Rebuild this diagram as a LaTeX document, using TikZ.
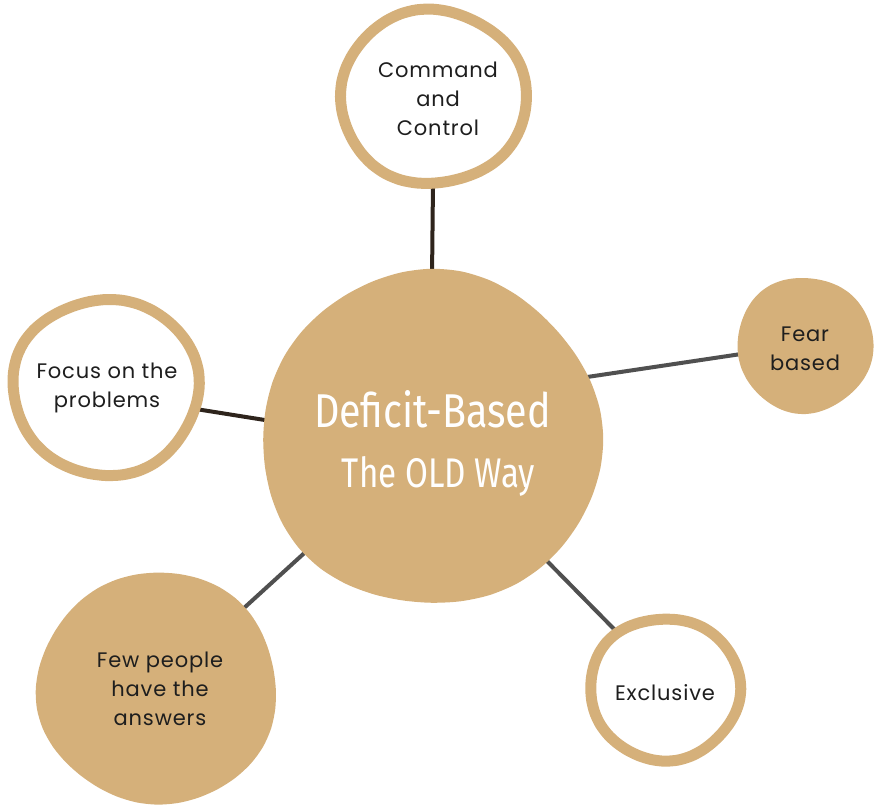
\documentclass[tikz,border=0pt]{standalone}
\usepackage{fontspec}
\setmainfont{Poppins}
\newfontfamily\lblfont[LetterSpace=4]{Poppins}
\newfontfamily\headfont{Fira Sans}
\definecolor{tan}{HTML}{D5B07A}
\definecolor{darkline}{HTML}{2E241C}
\definecolor{grayline}{HTML}{505050}
\definecolor{txt}{HTML}{1E1E1E}
% #1 style, #2 cx, #3 cy, #4 rx, #5 ry, #6 phase
\newcommand\blobdraw[6]{%
  \draw[#1] plot[smooth cycle, domain=0:350, samples=36, variable=\t]
   ({#2+#4*(1+0.012*sin(3*\t+#6)+0.008*cos(5*\t+2*#6))*cos(\t)},
    {#3+#5*(1+0.012*sin(3*\t+#6)+0.008*cos(5*\t+2*#6))*sin(\t)});}
\tikzset{
  hub/.style={circle, inner sep=0pt, minimum size=#1},
  ring/.style={draw=tan, line width=11pt, fill=white},
  disc/.style={fill=tan, draw=none},
  darkconn/.style={draw=darkline, line width=4pt},
  grayconn/.style={draw=grayline, line width=4pt},
  lbl/.style={font=\lblfont\fontsize{21}{29}\selectfont, text=txt, align=center},
}
\begin{document}
\begin{tikzpicture}[x=1pt, y=-1pt]
\useasboundingbox (0,0) rectangle (882,810);
% invisible anchors for connectors
\node[hub=320pt] (ctr) at (432,438) {};
\node[hub=170pt] (cmd) at (433,97) {};
\node[hub=120pt] (fear) at (805,345) {};
\node[hub=176pt] (focus) at (106,387) {};
\node[hub=220pt] (few) at (157,689) {};
\node[hub=144pt] (excl) at (665,689) {};
% connectors
\draw[darkconn] (ctr.90) -- (cmd.270);
\draw[grayconn] (ctr.22) -- (fear.188);
\draw[darkconn] (ctr.174) -- (focus.346);
\draw[grayconn] (ctr.222) -- (few.43);
\draw[grayconn] (ctr.313) -- (excl.130);
% shapes
\blobdraw{disc}{431.5}{438.5}{170}{167}{20}
\blobdraw{ring}{433}{97}{93}{87}{70}
\blobdraw{disc}{805}{345}{68}{68}{130}
\blobdraw{ring}{106}{387}{93}{88}{200}
\blobdraw{disc}{157.5}{688.5}{120}{116}{300}
\blobdraw{ring}{665}{689}{75}{71}{160}
% texts
\node[lbl] (tcmd) at (438,99) {Command\\and\\Control};
\node[lbl] (tfear) at (805,349) {Fear\\based};
\node[lbl] (tfocus) at (107,388) {Focus on the\\problems};
\node[lbl] (tfew) at (160,689) {Few people\\have the\\answers};
\node[lbl] (texcl) at (665,693) {Exclusive};
\node[anchor=base, text=white, inner sep=0pt] (thead) at (432.5,427)
  {\resizebox{237pt}{37pt}{\headfont Deficit-Based}};
\node[anchor=base, text=white, inner sep=0pt] (tsub) at (438.5,487)
  {\resizebox{193pt}{31pt}{\headfont The OLD Way}};
\end{tikzpicture}
\end{document}
